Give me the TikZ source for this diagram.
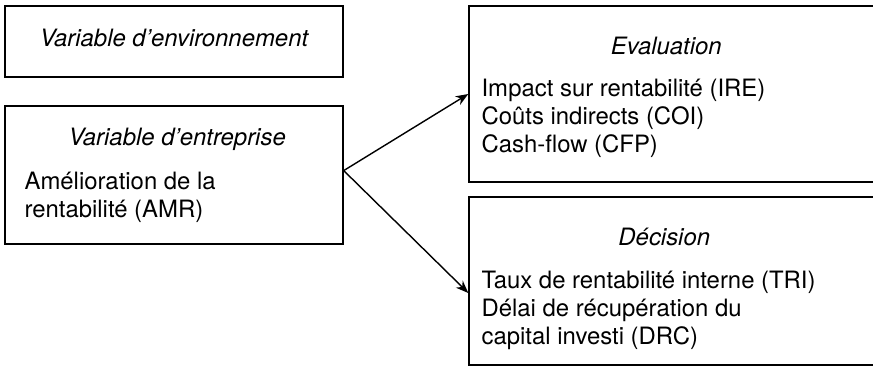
\documentclass[tikz,border=0pt]{standalone}
\usepackage{fontspec}
\setmainfont{TeX Gyre Heros}
\usepackage{tikz}
\usetikzlibrary{arrows.meta, positioning, calc}

\begin{document}
\begin{tikzpicture}[
    box/.style={rectangle, draw=black, line width=1pt, minimum width=8.45cm},
    widebox/.style={box, minimum width=10.6cm},
    titletext/.style={inner sep=0pt, anchor=base, font=\fontsize{17}{19.9}\selectfont\itshape},
    bodytext/.style={inner sep=0pt, anchor=base west, align=left,
                     font=\fontsize{17}{19.9}\selectfont},
    arrow/.style={-{Stealth[length=9pt, width=7pt]}, line width=1pt}
]
    \useasboundingbox (0,0) rectangle (21.825,-9.3);
    \clip (0,0) rectangle (21.825,-9.3);

    % left column
    \node[box, minimum height=1.775cm] (env) at (4.35,-1.0375) {};
    \node[box, minimum height=3.45cm] (entr) at (4.35,-4.375) {};
    \node[titletext] (envtitle) at ($(env.north)+(0,-1.025)$) {Variable d'environnement};
    \node[titletext] (entrtitle) at ($(entr.north)+(0.08,-1.0)$) {Variable d'entreprise};
    % base = last line
    \node[bodytext] (entrbody) at ($(entr.north west)+(0.5,-2.8)$)
        {Amélioration de la\\rentabilité (AMR)};

    % right column, cut by the right margin
    \node[widebox, minimum height=4.4cm] (eval) at (17.025,-2.35) {};
    \node[widebox, minimum height=4.2cm] (dec) at (17.025,-7.025) {};
    \node[titletext] (evaltitle) at ($(eval.north west)+(4.95,-1.225)$) {Evaluation};
    \node[bodytext] (evalbody) at ($(eval.north west)+(0.325,-3.675)$)
        {Impact sur rentabilité (IRE)\\Coûts indirects (COI)\\Cash-flow (CFP)};
    \node[titletext] (dectitle) at ($(dec.north west)+(4.9,-1.225)$) {Décision};
    \node[bodytext] (decbody) at ($(dec.north west)+(0.325,-3.7)$)
        {Taux de rentabilité interne (TRI)\\Délai de récupération du\\capital investi (DRC)};

    \draw[arrow] ([yshift=0.11cm]entr.east) -- (eval.west);
    \draw[arrow] ([yshift=0.11cm]entr.east) -- ([yshift=-0.3cm]dec.west);
\end{tikzpicture}
\end{document}
